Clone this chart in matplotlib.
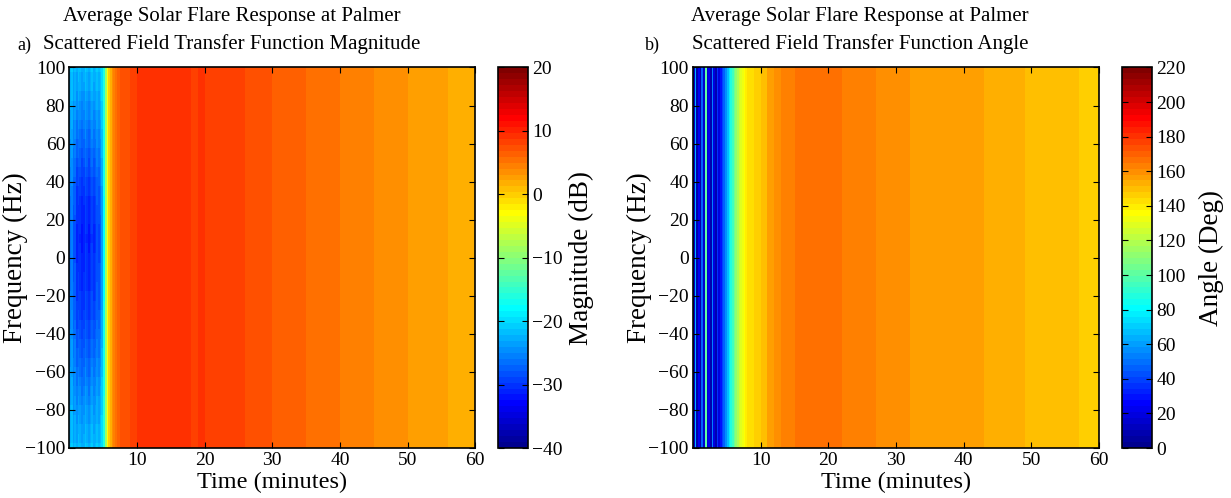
import numpy as np
import matplotlib
matplotlib.use("Agg")
import matplotlib.pyplot as plt
from matplotlib.colors import ListedColormap

plt.rcParams["font.family"] = ["Liberation Serif", "DejaVu Serif"]

# ---- data -------------------------------------------------------------
# column edges in minutes: quarter-minute columns for the first 8 minutes,
# one-minute columns afterwards
time_edges = np.concatenate([np.arange(0.0, 8.0, 0.25), np.arange(8.0, 61.0, 1.0)])
freq_hz = np.arange(-100, 101, 5)

# magnitude (dB) along the band edges, one value per time column
mag_db = [
    -22.0, -21.0, -23.0, -22.0, -23.0, -21.5, -22.0, -23.0,
    -22.5, -21.0, -22.0, -23.0, -22.0, -21.0, -22.5, -22.0,
    -21.0, -22.0, -21.0, -19.5, -16.0, -9.0, -3.0, 0.0,
    2.0, 3.5, 4.5, 5.3, 6.0, 6.5, 7.0, 7.3,
    7.5, 8.3, 8.9, 9.2, 9.4, 9.3, 9.4, 9.2, 9.3, 9.0,
    8.7, 8.8, 8.5, 8.7, 8.4, 8.3, 8.1, 7.9, 7.8, 7.5,
    7.2, 6.9, 6.8, 6.6, 6.5, 6.3, 6.4, 5.8, 5.6, 5.5,
    5.3, 5.2, 4.9, 4.8, 4.6, 4.5, 4.2, 4.0, 3.8, 3.6,
    3.4, 3.2, 3.0, 3.1, 2.8, 2.6, 2.6, 2.3, 2.0, 1.8,
    1.7, 1.6,
]
# extra depth (dB) of the early trough toward mid-band, per 5 Hz row
mag_dip_db = [
    0.0, 0.5, 1.0, 1.5, 2.0, 2.5, 3.0, 3.5, 4.0, 4.5,
    5.0, 5.5, 6.0, 6.5, 7.0, 7.3, 7.6, 7.9, 8.1, 8.3,
    8.5, 8.6, 8.7, 8.6, 8.4, 8.2, 7.9, 7.5, 7.0, 6.4,
    5.8, 5.2, 4.6, 4.0, 3.4, 2.8, 2.2, 1.6, 1.0, 0.5, 0.0,
]
# how strongly the trough shows in each of the first 21 columns
mag_dip_weight = [0.5, 0.55, 0.6, 0.7, 0.9, 1.0, 1.0, 1.0,
                  1.0, 1.0, 1.0, 1.0, 1.0, 1.0, 0.95, 0.9,
                  0.85, 0.8, 0.7, 0.5, 0.2]

# angle (deg), one value per time column
angle_deg = [
    14, 62, 8, 24, 10, 45, 14, 100,
    16, 22, 8, 52, 18, 10, 36, 20,
    30, 40, 48, 58, 68, 78, 86, 95,
    104, 112, 120, 125, 130, 134, 137, 140,
    143, 147, 151, 155, 159, 162, 164, 166, 167, 167,
    167, 166, 165, 165, 164, 164, 163, 162, 162, 161,
    160, 160, 159, 159, 158, 158, 158, 157, 157, 157,
    156, 156, 156, 155, 155, 154, 154, 153, 153, 152,
    152, 151, 151, 150, 150, 149, 149, 148, 148, 147,
    147, 146,
]

x_ticks = [10, 20, 30, 40, 50, 60]
y_ticks = list(range(-100, 101, 20))
mag_ticks = list(range(-40, 21, 10))
angle_ticks = list(range(0, 221, 20))


# ---- 64-level jet, built the same way MATLAB builds it ------------------
def jet64(m=64):
    n = int(np.ceil(m / 4))
    u = np.concatenate([np.arange(1, n + 1) / n, np.ones(n - 1), np.arange(n, 0, -1) / n])
    g = int(np.ceil(n / 2)) - (1 if m % 4 == 1 else 0) + np.arange(1, len(u) + 1)
    r = g + n
    b = g - n
    g = g[g <= m]
    r = r[r <= m]
    b = b[b >= 1]
    J = np.zeros((m, 3))
    J[r - 1, 0] = u[: len(r)]
    J[g - 1, 1] = u[: len(g)]
    J[b - 1, 2] = u[-len(b):]
    return ListedColormap(J)


cmap = jet64()

# ---- grids --------------------------------------------------------------
freq_edges = np.concatenate([[-102.5], (freq_hz[:-1] + freq_hz[1:]) / 2.0, [102.5]])
n_cols = len(time_edges) - 1

mag_grid = np.tile(np.asarray(mag_db, float), (len(freq_hz), 1))
weights = np.zeros(n_cols)
weights[: len(mag_dip_weight)] = mag_dip_weight
mag_grid -= np.outer(np.asarray(mag_dip_db, float), weights)

angle_grid = np.tile(np.asarray(angle_deg, float), (len(freq_hz), 1))

# ---- figure -------------------------------------------------------------
W, H = 1231, 498
fig = plt.figure(figsize=(W / 100, H / 100), dpi=100)


def fx(px):
    return px / W


def fy(py):
    return 1 - py / H


ax_w = fx(406)
ax_b = fy(448)
ax_h = (448 - 67.5) / H
cb_w = fx(30)

TICK_FS = 14
LABEL_FS = 17.5
VLABEL_FS = 19.5
TITLE_FS = 15

panels = [
    dict(left=69.3, cb_left=498, grid=mag_grid, vmin=-40, vmax=20, ticks=mag_ticks,
         cblabel="Magnitude (dB)", line2="Scattered Field Transfer Function Magnitude",
         tag="a)", tag_x=17, title_x=232, cblabel_x=581, ylabel_x=15),
    dict(left=693, cb_left=1122, grid=angle_grid, vmin=0, vmax=220, ticks=angle_ticks,
         cblabel="Angle (Deg)", line2="Scattered Field Transfer Function Angle",
         tag="b)", tag_x=645, title_x=860, cblabel_x=1211, ylabel_x=639),
]

for p in panels:
    ax = fig.add_axes([fx(p["left"]), ax_b, ax_w, ax_h])
    mesh = ax.pcolormesh(time_edges, freq_edges, p["grid"], cmap=cmap,
                         vmin=p["vmin"], vmax=p["vmax"], shading="flat",
                         rasterized=True)
    ax.set_xlim(0, 60)
    ax.set_ylim(-100, 100)
    ax.set_xticks(x_ticks)
    ax.set_yticks(y_ticks)
    ax.tick_params(direction="in", top=True, right=True, length=4, width=0.8,
                   labelsize=TICK_FS, pad=3)
    for s in ax.spines.values():
        s.set_linewidth(1.2)

    ax_cx = p["left"] + 203
    fig.text(fx(ax_cx), fy(482), "Time (minutes)", ha="center", va="center",
             fontsize=LABEL_FS)
    fig.text(fx(p["ylabel_x"]), fy(258), "Frequency (Hz)", rotation=90,
             ha="center", va="center", fontsize=VLABEL_FS)

    cax = fig.add_axes([fx(p["cb_left"]), ax_b, cb_w, ax_h])
    cb = fig.colorbar(mesh, cax=cax, ticks=p["ticks"])
    cb.outline.set_linewidth(1.2)
    cax.tick_params(direction="in", left=True, right=True, length=4, width=0.8,
                    labelsize=TICK_FS, pad=3)
    fig.text(fx(p["cblabel_x"]), fy(258), p["cblabel"], rotation=90,
             ha="center", va="center", fontsize=VLABEL_FS)

    fig.text(fx(p["title_x"]), fy(17), "Average Solar Flare Response at Palmer",
             ha="center", va="center", fontsize=TITLE_FS)
    fig.text(fx(p["title_x"]), fy(44), p["line2"], ha="center", va="center",
             fontsize=TITLE_FS)
    fig.text(fx(p["tag_x"]), fy(45), p["tag"], ha="left", va="center", fontsize=13)

fig.savefig("out.png", dpi=100)
